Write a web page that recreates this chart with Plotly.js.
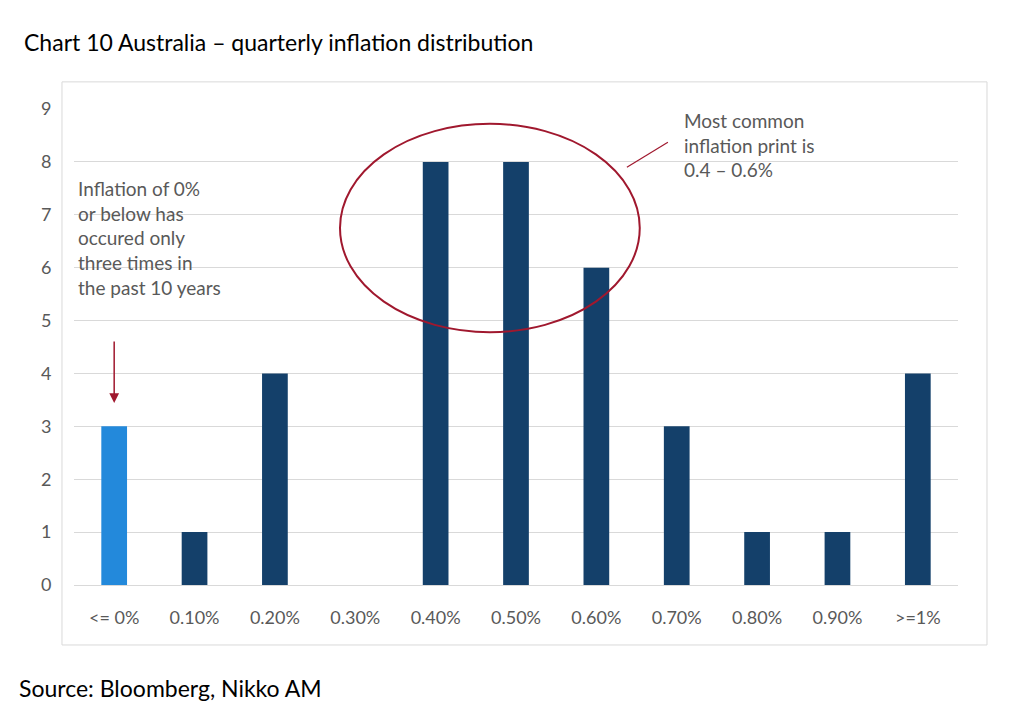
<!DOCTYPE html>
<html><head><script src="https://cdn.plot.ly/plotly-3.0.1.min.js"></script>
<style>body{margin:0;background:#fff}</style></head><body>
<div id="c" style="width:1024px;height:727px"></div>
<script>
const categories=["<= 0%","0.10%","0.20%","0.30%","0.40%","0.50%","0.60%","0.70%","0.80%","0.90%",">=1%"];
const counts=[3,1,4,0,8,8,6,3,1,1,4];
const colors=counts.map((v,i)=>i===0?"#2389db":"#14406a");
const F="Lato, 'Open Sans', sans-serif";
Plotly.newPlot("c",[{type:"bar",x:categories,y:counts,marker:{color:colors},hoverinfo:"none"}],{
 width:1024,height:727,margin:{l:74,r:66,t:109,b:142},
 paper_bgcolor:"#fff",plot_bgcolor:"#fff",bargap:0.68,showlegend:false,
 font:{family:F,color:"#595959",size:17},
 xaxis:{type:"category",tickfont:{size:18,color:"#595959"},showgrid:false,showline:true,linecolor:"#d9d9d9",ticks:"outside",ticklen:16,tickcolor:"rgba(0,0,0,0)"},
 yaxis:{range:[0,9],dtick:1,gridcolor:"#d9d9d9",zeroline:false,tickfont:{size:18,color:"#595959"},ticks:"outside",ticklen:18,tickcolor:"rgba(0,0,0,0)"},
 shapes:[
  {type:"rect",xref:"paper",yref:"paper",x0:-0.0136,x1:1.0328,y0:-0.126,y1:1.057,line:{color:"#d9d9d9",width:1}},
  {type:"circle",xref:"x",yref:"y",x0:2.81,x1:6.54,y0:4.78,y1:8.72,line:{color:"#a0182e",width:2}},
  {type:"line",xref:"x",yref:"y",x0:6.38,y0:7.9,x1:6.89,y1:8.37,line:{color:"#a0182e",width:1.2}}
 ],
 annotations:[
  {xref:"paper",yref:"paper",x:-0.059,y:1.141,xanchor:"left",yanchor:"middle",text:"Chart 10 Australia – quarterly inflation distribution",showarrow:false,font:{family:F,size:23,color:"#000"}},
  {xref:"paper",yref:"paper",x:-0.065,y:-0.216,xanchor:"left",yanchor:"middle",text:"Source: Bloomberg, Nikko AM",showarrow:false,font:{family:F,size:23,color:"#000"}},
  {xref:"x",yref:"y",x:-0.47,y:7.75,xanchor:"left",yanchor:"top",align:"left",showarrow:false,text:"Inflation of 0%<br>or below has<br>occured only<br>three times in<br>the past 10 years",font:{family:F,size:19,color:"#595959"}},
  {xref:"paper",yref:"paper",x:0.688,y:1.005,xanchor:"left",yanchor:"top",align:"left",showarrow:false,text:"Most common<br>inflation print is<br>0.4 – 0.6%",font:{family:F,size:19,color:"#595959"}},
  {xref:"x",yref:"y",x:0,y:3.44,axref:"x",ayref:"y",ax:0,ay:4.63,text:"",showarrow:true,arrowhead:2,arrowsize:1.3,arrowwidth:1.5,arrowcolor:"#a0182e"}
 ]
},{staticPlot:true});
</script></body></html>
